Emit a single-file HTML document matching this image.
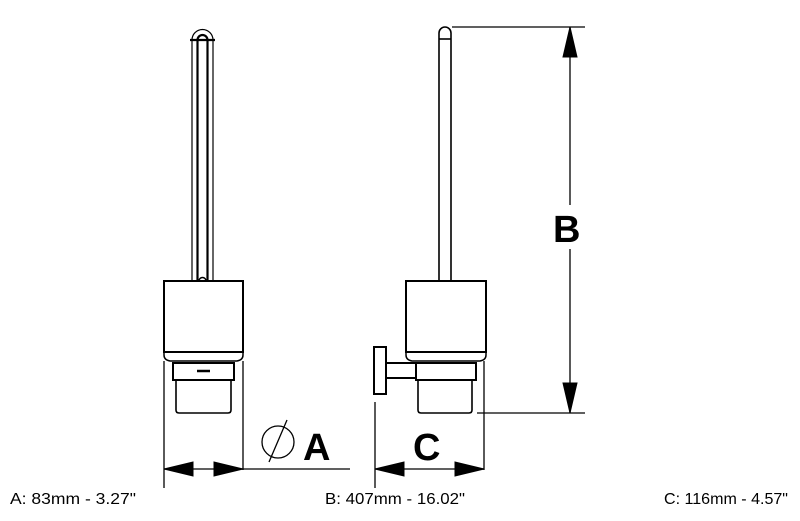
<!DOCTYPE html>
<html><head><meta charset="utf-8"><style>
html,body{margin:0;padding:0;background:#fff;width:800px;height:521px;overflow:hidden}
svg{display:block}
text{font-family:"Liberation Sans",sans-serif}
</style></head><body>
<svg width="800" height="521" viewBox="0 0 800 521" fill="none" stroke="#000">
<g stroke-width="1.2">
<path d="M192 280 V40 A10.5 10.5 0 0 1 213 40 V280"/>
</g>
<g stroke-width="2.2">
<path d="M197.5 280 V40 A5 5 0 0 1 207.5 40 V280"/>
<path d="M190 40 H215"/>
</g>
<path d="M199 281 A3 3 0 0 1 206 281" stroke-width="1.5"/>
<rect x="164" y="281" width="79" height="71" stroke-width="2"/>
<path d="M164 352 V355 Q164 360 170 361 H237 Q243 360 243 355 V352" stroke-width="1.5"/>
<rect x="173" y="363" width="61" height="17" stroke-width="2"/>
<path d="M197 371 H210" stroke-width="2.5"/>
<path d="M176 380 V410 Q176 413 179 413 H228 Q231 413 231 410 V380" stroke-width="1.6"/>
<g stroke-width="1.3">
<path d="M164 361 V488"/><path d="M243 361 V470"/>
<path d="M164 469 H350"/>
</g>
<path d="M164 469 L193 462 V476 Z" fill="#000"/>
<path d="M243 469 L214 462 V476 Z" fill="#000"/>
<circle cx="278" cy="442" r="16" stroke-width="1.3"/>
<path d="M269 462 L287 420" stroke-width="1.3"/>
<text x="303" y="460" font-size="38" font-weight="bold" fill="#000" stroke="none">A</text>
<path d="M439 281 V33 A6 6 0 0 1 451 33 V281" stroke-width="1.6"/>
<path d="M439 39 H451" stroke-width="1.6"/>
<rect x="406" y="281" width="80" height="71" stroke-width="2"/>
<path d="M406 352 V355 Q406 360 412 361 H480 Q486 360 486 355 V352" stroke-width="1.5"/>
<rect x="416" y="363" width="60" height="17" stroke-width="2"/>
<path d="M418 380 V410 Q418 413 421 413 H469 Q472 413 472 410 V380" stroke-width="1.6"/>
<rect x="374" y="347" width="12" height="47" stroke-width="2"/>
<rect x="386" y="363" width="30" height="15" stroke-width="2"/>
<g stroke-width="1.3">
<path d="M375 402 V488"/><path d="M484 361 V470"/>
<path d="M375 469 H484"/>
<path d="M452 27 H585"/><path d="M477 413 H585"/>
<path d="M570 27 V413"/>
</g>
<path d="M375 469 L404 462 V476 Z" fill="#000"/>
<path d="M484 469 L455 462 V476 Z" fill="#000"/>
<path d="M570 27 L563 57 H577 Z" fill="#000"/>
<path d="M570 413 L563 383 H577 Z" fill="#000"/>
<rect x="550" y="205" width="40" height="44" fill="#fff" stroke="none"/>
<text x="553" y="242" font-size="38" font-weight="bold" fill="#000" stroke="none">B</text>
<text x="413" y="460" font-size="38" font-weight="bold" fill="#000" stroke="none">C</text>
<g fill="#000" stroke="none" font-size="16">
<text x="10" y="504" textLength="126" lengthAdjust="spacingAndGlyphs">A: 83mm - 3.27"</text>
<text x="325" y="504" textLength="140" lengthAdjust="spacingAndGlyphs">B: 407mm - 16.02"</text>
<text x="664" y="504" textLength="124" lengthAdjust="spacingAndGlyphs">C: 116mm - 4.57"</text>
</g>
</svg>
</body></html>
